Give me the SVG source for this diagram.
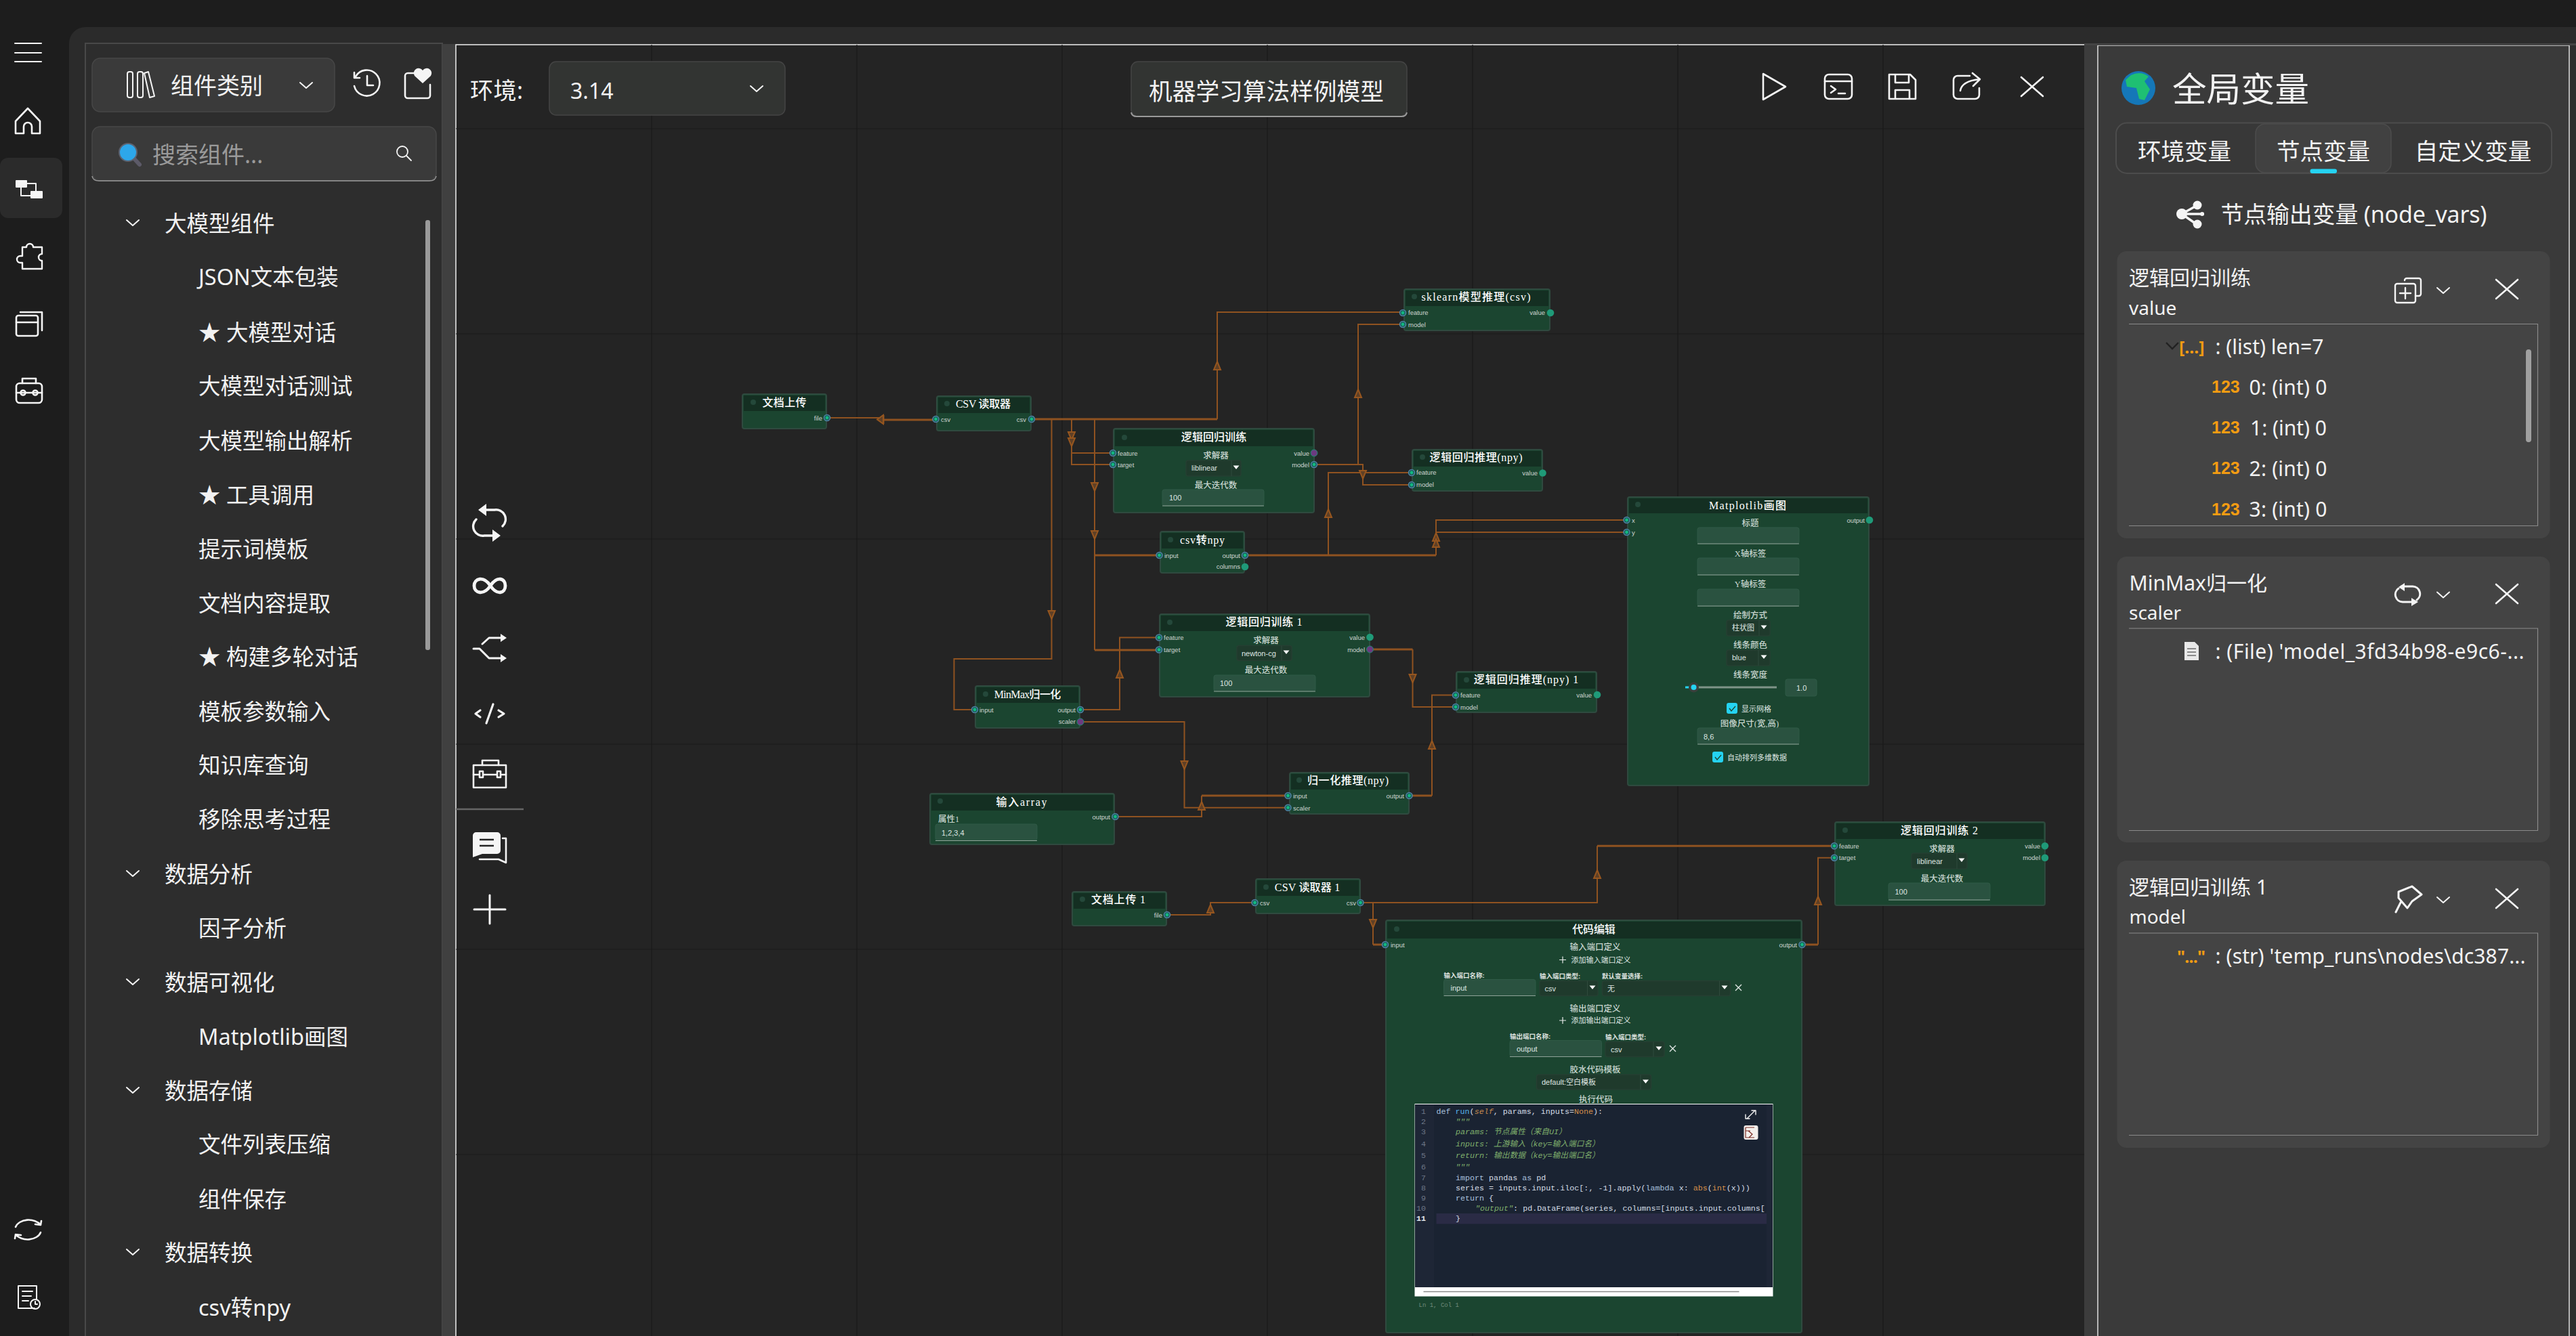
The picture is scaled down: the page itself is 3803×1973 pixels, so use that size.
<svg xmlns="http://www.w3.org/2000/svg" xmlns:xlink="http://www.w3.org/1999/xlink" width="3803" height="1973" viewBox="0 0 3803 1973" stroke-width="2.6">
<style>
text{font-family:"Noto Sans","Noto Sans CJK SC",sans-serif;fill:#f2f2f2;dominant-baseline:central}
.tree{font-size:32.5px}
.ic{fill:none;stroke:#f5f5f5;stroke-linecap:round;stroke-linejoin:round}
.icf{fill:#f5f5f5;stroke:none}
.grid{stroke:#1a1a1a;stroke-width:1.2}
.e{fill:none;stroke:#8f5220;stroke-width:2}
.t{fill:none;stroke:#8f5220;stroke-width:3}
.ah{fill:#5f4026;stroke:#96561f;stroke-width:2;stroke-linejoin:miter}
.n{fill:#1b4530;stroke:#2f4a3f;stroke-width:2}
.h{fill:#142f22}
.d{fill:#24483a}
.tt{font-family:"Liberation Serif","Noto Sans CJK SC",serif;font-size:16px;font-weight:500;fill:#fff;text-anchor:middle}
.pl{font-family:"Liberation Sans","Noto Sans CJK SC",sans-serif;font-size:9.5px;fill:#cfd6d2}
.pr{font-family:"Liberation Sans","Noto Sans CJK SC",sans-serif;font-size:9.5px;fill:#cfd6d2;text-anchor:end}
.lab{font-family:"Liberation Serif","Noto Sans CJK SC",serif;font-size:12.5px;font-weight:500;fill:#c8d6cf;text-anchor:middle}
.lb2{font-family:"Liberation Sans","Noto Sans CJK SC",sans-serif;font-size:9.5px;font-weight:700;fill:#e0e6e2}
.val{font-family:"Liberation Sans","Noto Sans CJK SC",sans-serif;font-size:11px;fill:#dfe6e2}
.inp{fill:#2a5240;stroke:#2f5a46;stroke-width:1}
.ul{stroke:#8fa398;stroke-width:1}
.sel{fill:#1f3a2c;stroke:#263f32;stroke-width:1.5}
.dv{stroke:#2f4a3c;stroke-width:1}
.x{fill:none;stroke:#dfe6e2;stroke-width:1.4}
.cb{fill:#25d3f2}
.ck{fill:none;stroke:#1b4530;stroke-width:1.3}
.code{font-family:"Liberation Mono","Noto Sans CJK SC",monospace;font-size:11.7px;fill:#d4dce6}
.ln{font-family:"Liberation Mono",monospace;font-size:11.7px;fill:#6d7787;text-anchor:end}
.kw{fill:#a8c0de}.fn{fill:#56b2ea}.or{fill:#d68f4a}.cm{fill:#7faf6c;font-style:italic}.sf{fill:#c68a4e;font-style:italic}
.card{fill:#444}
.tb{fill:none;stroke:#8a8a8a;stroke-width:1.2}
.rt{font-size:30px}
.rs{font-size:28px}
.o123{font-family:"Liberation Sans",sans-serif;font-size:25px;font-weight:700;fill:#f39c12}
.tab{font-size:34.5px;text-anchor:middle}
</style>
<defs>
<g id="pi"><circle r="4.5" fill="#1b5a56" stroke="#4d82a3" stroke-width="1.6"/><circle r="2.4" fill="#12b981"/></g>
<g id="pf"><circle r="5.3" fill="#1f9a78"/></g>
<g id="pp"><circle r="5" fill="#6b3a80" stroke="#1f8a70" stroke-width="1"/></g>
<path id="au" class="ah" d="M0,-6 L5,6 H-5Z"/>
<path id="ad" class="ah" d="M0,6 L5,-6 H-5Z"/>
<path id="dd" fill="#fff" d="M-4.5,-2.5 H4.5 L0,3 Z"/>
<path id="xm" class="ic" d="M-16,-14 L16,14 M16,-14 L-16,14"/>
<path id="cv" class="ic" d="M-9,-4 L0,4 L9,-4" stroke-width="2"/>
<path id="pm" stroke="#e8ece9" stroke-width="1.2" d="M-5,0 H5 M0,-5 V5"/>
<clipPath id="edc"><rect x="2117" y="1631" width="491" height="270"/></clipPath>
</defs>

<rect id="page" width="3803" height="1973" fill="#1d1d1d"/>
<rect id="content" x="102" y="40" width="3760" height="2000" rx="24" fill="#2b2b2b"/>

<g id="rail">
<rect x="0" y="233" width="92" height="89" rx="12" fill="#2b2b2b"/>
<path class="ic" d="M22,64 H61 M22,78 H61 M22,91 H61" stroke-width="2"/>
<path class="ic" d="M23,179 L41,160 L59,179 V197 H47 V187 a6,6 0 0 0 -12,0 V197 H23 Z"/>
<g class="ic" stroke-width="2"><rect x="24" y="267" width="15" height="9" fill="#f5f5f5"/><rect x="46" y="283" width="16" height="9" fill="#f5f5f5"/><path d="M31,276 V289 H46 M39,271 H53 V283"/></g>
<path class="ic" d="M33,365 h6 a5,5 0 1 1 10,0 h13 v10 a5,5 0 0 0 0,10 v12 H33 V388 h-3 a5,5 0 1 1 0,-10 h3 Z" stroke-width="2.4"/>
<g class="ic"><rect x="24" y="466" width="32" height="30" rx="3"/><path d="M24,476 H56 M30,461 H62 V488"/></g>
<g class="ic"><rect x="24" y="566" width="38" height="29" rx="5"/><path d="M33,566 V559 H53 V566 M24,580 H62"/><circle cx="34" cy="580" r="3.5"/><circle cx="52" cy="580" r="3.5"/></g>
<path class="ic" d="M23,1812 a20,14 0 0 1 37,-3 M60,1809 l-8,-1 M60,1809 l1,-6 M60,1820 a20,14 0 0 1 -37,3 M23,1823 l8,1 M23,1823 l-1,6"/>
<g class="ic" stroke-width="2"><path d="M51,1932 H27 V1899 H54 V1918 M33,1907 H48 M33,1914 H46 M33,1921 H42"/><circle cx="52" cy="1926" r="7"/><path d="M52,1922 V1926 H55"/></g>
</g>

<g id="sidebar">
<rect x="126" y="64" width="527" height="1920" fill="#2d2d2d" stroke="#484848" stroke-width="2"/>
<rect x="653" y="65" width="20" height="1910" fill="#404040"/>
<rect x="136" y="86" width="358" height="79" rx="12" fill="#3a3a3a" stroke="#474747" stroke-width="1.5"/>
<g class="ic" stroke-width="2"><rect x="188" y="106" width="8" height="38" rx="3"/><rect x="203" y="106" width="8" height="38" rx="3"/><path d="M213,108 L219,106 L228,142 L221,144 Z"/></g>
<text x="252" y="126" font-size="34">组件类别</text>
<use href="#cv" x="452" y="126"/>
<g class="ic"><path d="M525,113 a19,19 0 1 1 -2,14 M523,107 V115 H531 M542,112 V126 H551"/></g>
<g><path class="ic" d="M612,108 H602 a4,4 0 0 0 -4,4 V141 a4,4 0 0 0 4,4 H631 a4,4 0 0 0 4,-4 V125"/><path class="icf" d="M624,123 L612,112 a6.5,6.5 0 0 1 12,-8 a6.5,6.5 0 0 1 12,8 Z"/></g>
<rect x="136" y="187" width="508" height="80" rx="12" fill="#3a3a3a" stroke="#474747" stroke-width="1.5"/>
<path d="M136,260 Q137,267 146,267 H634 Q643,267 644,260" fill="none" stroke="#9a9a9a" stroke-width="1.5"/>
<path d="M196,232 L206,243" stroke="#5c5a68" stroke-width="6" stroke-linecap="round"/>
<circle cx="189" cy="225" r="13" fill="#2da7ea" stroke="#5c6270" stroke-width="2"/>
<text x="225" y="228" font-size="34" style="fill:#9a9a9a">搜索组件...</text>
<g class="ic" stroke-width="1.8"><circle cx="594" cy="224" r="8"/><path d="M600,230 L607,237"/></g>
<rect x="628" y="325" width="7" height="635" rx="3" fill="#9a9a9a"/>
<use href="#cv" x="196" y="329"/><text class="tree" x="243" y="329">大模型组件</text>
<text class="tree" x="293" y="408">JSON文本包装</text>
<text class="tree" x="293" y="490">★ 大模型对话</text>
<text class="tree" x="293" y="569.5">大模型对话测试</text>
<text class="tree" x="293" y="650.5">大模型输出解析</text>
<text class="tree" x="293" y="730">★ 工具调用</text>
<text class="tree" x="293" y="810">提示词模板</text>
<text class="tree" x="293" y="890">文档内容提取</text>
<text class="tree" x="293" y="969">★ 构建多轮对话</text>
<text class="tree" x="293" y="1050">模板参数输入</text>
<text class="tree" x="293" y="1129">知识库查询</text>
<text class="tree" x="293" y="1209">移除思考过程</text>
<use href="#cv" x="196" y="1290"/><text class="tree" x="243" y="1290">数据分析</text>
<text class="tree" x="293" y="1370">因子分析</text>
<use href="#cv" x="196" y="1450"/><text class="tree" x="243" y="1450">数据可视化</text>
<text class="tree" x="293" y="1530">Matplotlib画图</text>
<use href="#cv" x="196" y="1610"/><text class="tree" x="243" y="1610">数据存储</text>
<text class="tree" x="293" y="1689">文件列表压缩</text>
<text class="tree" x="293" y="1770">组件保存</text>
<use href="#cv" x="196" y="1849"/><text class="tree" x="243" y="1849">数据转换</text>
<text class="tree" x="293" y="1930">csv转npy</text>
</g>

<g id="canvas">
<rect x="673" y="66" width="2404" height="1907" fill="#242424"/>
<path d="M673,1973 V66 H3077" fill="none" stroke="#f0f0f0" stroke-width="1.5"/>
<rect x="3077" y="64" width="20" height="1909" fill="#3c3c3c"/>
<g class="grid">
<path d="M673,190 H3077 M673,493 H3077 M673,796 H3077 M673,1099 H3077 M673,1402 H3077 M673,1705 H3077"/>
<path d="M962,66 V1973 M1265,66 V1973 M1568,66 V1973 M1871,66 V1973 M2174,66 V1973 M2477,66 V1973 M2780,66 V1973"/>
</g>
<text x="694" y="133" font-size="34" textLength="78">环境:</text>
<rect x="811" y="91" width="348" height="79" rx="10" fill="#323432" stroke="#444" stroke-width="1.5"/>
<text x="842" y="133" font-size="32">3.14</text>
<use href="#cv" x="1117" y="131"/>
<rect x="1670" y="91" width="407" height="81" rx="10" fill="#323432" stroke="#444" stroke-width="1.5"/>
<path d="M1670,166 Q1671,172 1678,172 H2069 Q2076,172 2077,166" fill="none" stroke="#9a9a9a" stroke-width="2"/>
<text x="1696" y="134" font-size="34.7">机器学习算法样例模型</text>
<g id="canvas-tools">
<path class="ic" d="M2603,109 L2636,128 L2603,147 Z"/>
<g class="ic"><rect x="2694" y="110" width="40" height="36" rx="6"/><path d="M2694,120 H2734 M2703,127 L2710,132 L2703,137 M2714,138 H2724"/></g>
<g class="ic"><path d="M2789,110 H2820 L2828,118 V146 H2789 Z M2798,110 V122 H2818 V110 M2798,146 V133 H2819 V146"/></g>
<g class="ic"><path d="M2908,112 H2890 a6,6 0 0 0 -6,6 V140 a6,6 0 0 0 6,6 H2916 a6,6 0 0 0 6,-6 V130 M2894,134 Q2896,120 2922,117 M2912,108 L2923,117 L2913,127"/></g>
<use href="#xm" x="3000" y="128"/>
</g>
<g id="palette">
<path class="ic" d="M712,753 h18 a14,14 0 0 1 12,24 M733,791 h-18 a14,14 0 0 1 -12,-24" stroke-width="3.4"/>
<path class="icf" d="M718,744 V762 L706,753 Z M727,782 V800 L739,791 Z"/>
<path class="ic" d="M724,865 C714,850 700,854 700,865 C700,876 714,880 724,865 C734,850 746,854 746,865 C746,876 734,880 724,865 Z" stroke-width="4.8"/>
<path class="ic" d="M699,958 H708 L722,972 H742 M712,951 L722,942 H742" stroke-width="3"/>
<path class="icf" d="M739,936 L748,942 L739,948 Z M739,966 L748,972 L739,978 Z"/>
<path class="ic" d="M709,1049 L702,1054 L709,1059 M736,1049 L744,1054 L736,1059 M728,1040 L718,1068" stroke-width="3.2"/>
<g class="ic" stroke-width="2.6"><rect x="699" y="1130" width="48" height="33"/><path d="M712,1130 V1123 H736 V1130 M699,1144 H747"/><rect x="708" y="1139" width="5" height="9" fill="#242424"/><rect x="734" y="1139" width="5" height="9" fill="#242424"/></g>
<path stroke="#666" stroke-width="2.4" d="M673,1195 H773"/>
<path class="icf" d="M703,1229 H734 a5,5 0 0 1 5,5 V1256 a5,5 0 0 1 -5,5 H712 L698,1266 V1234 a5,5 0 0 1 5,-5 Z"/>
<path stroke="#242424" stroke-width="2.4" d="M708,1240 H729 M708,1249 H729"/>
<path class="ic" d="M742,1238 H747 V1274 L736,1269 H708"/>
<path class="ic" d="M723,1322 V1364 M700,1343 H746" stroke-width="3"/>
</g>
</g>

<g id="connectors">
<path class="e" d="M1221,617 H1304"/><path class="t" d="M1304,620 H1381 M1304,613 V626"/>
<path class="t" d="M1523,619 H1797"/><path class="e" d="M1797,619 V461 H2071"/>
<path class="e" d="M1582,619 V669 H1643"/>
<path class="e" d="M1582,619 V686 H1643"/>
<path class="e" d="M1616,619 V820"/><path class="t" d="M1616,820 H1711"/>
<path class="e" d="M1616,820 V960"/><path class="t" d="M1616,960 H1711"/>
<path class="e" d="M1552.5,619 V973 H1408.5 V1048 H1439"/>
<path class="e" d="M1595,1048 H1653 V941.5 H1711"/>
<path class="e" d="M1940,686 H2005 V479 H2071"/>
<path class="e" d="M1940,686 H2012 V716 H2084"/>
<path class="t" d="M1838,820 H2120"/>
<path class="e" d="M1961,820 V698 H2084"/>
<path class="e" d="M2120,820 V768 H2401"/>
<path class="e" d="M2120,820 V786 H2401"/>
<path class="t" d="M2023,959 H2085.5"/><path class="e" d="M2085.5,959 V1044 H2149"/>
<path class="t" d="M2080,1175 H2114"/><path class="e" d="M2114,1175 V1026.5 H2149"/>
<path class="e" d="M1595,1066 H1748.5 V1192.7 H1901"/>
<path class="e" d="M1646,1206 H1774 V1175"/><path class="t" d="M1774,1175 H1901"/>
<path class="e" d="M1723,1351 H1787 V1333 H1852"/>
<path class="e" d="M2008.7,1333 H2358 V1249.3"/><path class="t" d="M2358,1249.3 H2708"/>
<path class="e" d="M2027,1333 V1395"/><path class="t" d="M2027,1395 H2045"/>
<path class="t" d="M2661,1395 H2684"/><path class="e" d="M2684,1395 V1266.7 H2708"/>
<path class="ah" d="M1295,619.5 L1304,613 V626 Z"/>
<use href="#au" x="1797" y="540"/><use href="#ad" x="1582" y="644"/><use href="#ad" x="1582" y="653"/>
<use href="#ad" x="1616" y="719"/><use href="#ad" x="1616" y="790"/><use href="#ad" x="1552.5" y="908"/>
<use href="#au" x="1653" y="995"/><use href="#au" x="2005" y="581"/><use href="#ad" x="2012" y="701"/>
<use href="#au" x="1961" y="758"/><use href="#au" x="2120" y="793"/><use href="#au" x="2120" y="802"/>
<use href="#ad" x="2085.5" y="1002"/><use href="#au" x="2114" y="1100"/><use href="#ad" x="1748.5" y="1130"/>
<use href="#au" x="1774" y="1190"/><use href="#au" x="1787" y="1342"/><use href="#ad" x="2027" y="1364"/>
<use href="#au" x="2358" y="1291"/><use href="#au" x="2684" y="1330"/>
</g>

<g id="node-upload">
<rect class="n" x="1096" y="582" width="124" height="51" rx="3"/><rect class="h" x="1098" y="584" width="120" height="23"/><circle class="d" cx="1112" cy="594" r="4"/>
<text class="tt" x="1158" y="594" textLength="65">文档上传</text>
<text class="pr" x="1214" y="617">file</text><use href="#pi" x="1221" y="617"/>
</g>
<g id="node-csv">
<rect class="n" x="1383" y="585" width="139" height="51" rx="3"/><rect class="h" x="1385" y="587" width="135" height="23"/><circle class="d" cx="1398" cy="596" r="4"/>
<text class="tt" x="1451.5" y="596.5" textLength="81">CSV 读取器</text>
<text class="pl" x="1389" y="619">csv</text><text class="pr" x="1515" y="619">csv</text>
<use href="#pi" x="1381.5" y="619"/><use href="#pi" x="1523" y="619"/>
</g>
<g id="node-lr">
<rect class="n" x="1644" y="633" width="296" height="124" rx="3"/><rect class="h" x="1646" y="635" width="292" height="24"/><circle class="d" cx="1660" cy="646" r="4"/>
<text class="tt" x="1792" y="645" textLength="96.4">逻辑回归训练</text>
<text class="pl" x="1650" y="669">feature</text><text class="pl" x="1650" y="686">target</text>
<text class="pr" x="1933" y="669">value</text><text class="pr" x="1933" y="686">model</text>
<use href="#pi" x="1643" y="669"/><use href="#pi" x="1643" y="686"/><use href="#pp" x="1940" y="669"/><use href="#pi" x="1940" y="686"/>
<text class="lab" x="1795" y="673">求解器</text>
<rect class="sel" x="1751" y="680" width="81" height="23" rx="3"/><path class="dv" d="M1818,680 V703"/><use href="#dd" x="1825" y="690"/><text class="val" x="1759" y="691">liblinear</text>
<text class="lab" x="1795" y="717">最大迭代数</text>
<rect class="inp" x="1716" y="723" width="150" height="24" rx="3"/><path class="ul" d="M1716,747 H1866"/><text class="val" x="1726" y="735">100</text>
</g>
<g id="node-csv2npy">
<rect class="n" x="1713" y="785" width="124" height="61" rx="3"/><rect class="h" x="1715" y="787" width="120" height="23"/><circle class="d" cx="1728" cy="797" r="4"/>
<text class="tt" x="1775" y="797" textLength="66">csv转npy</text>
<text class="pl" x="1719" y="820">input</text><text class="pr" x="1831" y="820">output</text><text class="pr" x="1831" y="836.5">columns</text>
<use href="#pi" x="1711.5" y="820"/><use href="#pi" x="1838" y="820"/><use href="#pf" x="1838" y="837"/>
</g>
<g id="node-lr1">
<rect class="n" x="1712" y="907" width="310" height="122" rx="3"/><rect class="h" x="1714" y="909" width="306" height="23"/><circle class="d" cx="1727" cy="919" r="4"/>
<text class="tt" x="1866" y="918" textLength="113">逻辑回归训练 1</text>
<text class="pl" x="1718" y="941.5">feature</text><text class="pl" x="1718" y="959">target</text>
<text class="pr" x="2015" y="941">value</text><text class="pr" x="2015" y="959">model</text>
<use href="#pi" x="1711" y="941.5"/><use href="#pi" x="1711" y="959.5"/><use href="#pf" x="2022.5" y="941"/><use href="#pp" x="2022.5" y="959"/>
<text class="lab" x="1869" y="946">求解器</text>
<rect class="sel" x="1826" y="953.5" width="81" height="22" rx="3"/><path class="dv" d="M1892,953.5 V975.5"/><use href="#dd" x="1899" y="963"/><text class="val" x="1833" y="965">newton-cg</text>
<text class="lab" x="1869" y="990">最大迭代数</text>
<rect class="inp" x="1792" y="997" width="150" height="24" rx="3"/><path class="ul" d="M1792,1021 H1942"/><text class="val" x="1801" y="1009">100</text>
</g>
<g id="node-minmax">
<rect class="n" x="1440" y="1013" width="154" height="62" rx="3"/><rect class="h" x="1442" y="1015" width="150" height="23"/><circle class="d" cx="1455" cy="1025" r="4"/>
<text class="tt" x="1517" y="1025" textLength="98.5">MinMax归一化</text>
<text class="pl" x="1446" y="1048">input</text><text class="pr" x="1588" y="1048">output</text><text class="pr" x="1588" y="1065">scaler</text>
<use href="#pi" x="1439" y="1048"/><use href="#pi" x="1595" y="1048"/><use href="#pp" x="1595" y="1066"/>
</g>
<g id="node-array">
<rect class="n" x="1373" y="1172" width="272" height="75" rx="3"/><rect class="h" x="1375" y="1174" width="268" height="23"/><circle class="d" cx="1388" cy="1183" r="4"/>
<text class="tt" x="1508" y="1184" textLength="75">输入array</text>
<text class="lab" x="1385" y="1210" style="text-anchor:start">属性1</text>
<rect class="inp" x="1381" y="1217" width="150" height="24" rx="3"/><path class="ul" d="M1381,1241.5 H1531"/><text class="val" x="1390" y="1230">1,2,3,4</text>
<text class="pr" x="1639" y="1206">output</text><use href="#pi" x="1646.5" y="1206"/>
</g>
<g id="node-norm-predict">
<rect class="n" x="1904" y="1141" width="176" height="61" rx="3"/><rect class="h" x="1906" y="1143" width="172" height="23"/><circle class="d" cx="1918" cy="1152" r="4"/>
<text class="tt" x="1990" y="1152" textLength="120">归一化推理(npy)</text>
<text class="pl" x="1909" y="1175">input</text><text class="pl" x="1909" y="1193">scaler</text><text class="pr" x="2073" y="1175">output</text>
<use href="#pi" x="1901.5" y="1175"/><use href="#pi" x="1901.5" y="1192.7"/><use href="#pi" x="2080.5" y="1175"/>
</g>
<g id="node-upload1">
<rect class="n" x="1583" y="1317" width="139" height="50" rx="3"/><rect class="h" x="1585" y="1319" width="135" height="23"/><circle class="d" cx="1598" cy="1328" r="4"/>
<text class="tt" x="1651" y="1328" textLength="80">文档上传 1</text>
<text class="pr" x="1716" y="1351">file</text><use href="#pi" x="1723" y="1351"/>
</g>
<g id="node-csv1">
<rect class="n" x="1854" y="1298" width="154" height="51" rx="3"/><rect class="h" x="1856" y="1300" width="150" height="23"/><circle class="d" cx="1869" cy="1310" r="4"/>
<text class="tt" x="1930" y="1310" textLength="96.4">CSV 读取器 1</text>
<text class="pl" x="1860" y="1333">csv</text><text class="pr" x="2002" y="1333">csv</text>
<use href="#pi" x="1852.5" y="1333"/><use href="#pi" x="2008.5" y="1333"/>
</g>
<g id="node-sklearn">
<rect class="n" x="2073" y="427" width="215" height="61" rx="3"/><rect class="h" x="2075" y="429" width="211" height="23"/><circle class="d" cx="2088" cy="438" r="4"/>
<text class="tt" x="2179" y="438" textLength="161">sklearn模型推理(csv)</text>
<text class="pl" x="2079" y="461">feature</text><text class="pl" x="2079" y="479">model</text><text class="pr" x="2281" y="461">value</text>
<use href="#pi" x="2071" y="462"/><use href="#pi" x="2071" y="479"/><use href="#pf" x="2289" y="462"/>
</g>
<g id="node-predict">
<rect class="n" x="2085" y="664" width="192" height="61" rx="3"/><rect class="h" x="2087" y="666" width="188" height="23"/><circle class="d" cx="2100" cy="675" r="4"/>
<text class="tt" x="2179" y="675" textLength="137">逻辑回归推理(npy)</text>
<text class="pl" x="2091" y="697.5">feature</text><text class="pl" x="2091" y="715">model</text><text class="pr" x="2270" y="698">value</text>
<use href="#pi" x="2084" y="698"/><use href="#pi" x="2084" y="716"/><use href="#pf" x="2277.5" y="698.5"/>
</g>
<g id="node-predict1">
<rect class="n" x="2150" y="992" width="207" height="60" rx="3"/><rect class="h" x="2152" y="994" width="203" height="23"/><circle class="d" cx="2165" cy="1004" r="4"/>
<text class="tt" x="2253" y="1003.5" textLength="154.5">逻辑回归推理(npy) 1</text>
<text class="pl" x="2156" y="1026">feature</text><text class="pl" x="2156" y="1044">model</text><text class="pr" x="2350" y="1026">value</text>
<use href="#pi" x="2149" y="1026.5"/><use href="#pi" x="2149" y="1044"/><use href="#pf" x="2358" y="1026"/>
</g>
<g id="node-matplotlib">
<rect class="n" x="2403" y="734" width="356" height="426" rx="3"/><rect class="h" x="2405" y="736" width="352" height="22"/><circle class="d" cx="2418" cy="745" r="4"/>
<text class="tt" x="2580" y="746" textLength="114">Matplotlib画图</text>
<text class="pl" x="2409" y="768">x</text><text class="pl" x="2409" y="786">y</text><text class="pr" x="2753" y="768">output</text>
<use href="#pi" x="2401.5" y="768"/><use href="#pi" x="2401.5" y="786"/><use href="#pf" x="2760" y="768"/>
<text class="lab" x="2584" y="773">标题</text>
<rect class="inp" x="2506" y="779" width="150" height="24" rx="3"/><path class="ul" d="M2506,803 H2656"/>
<text class="lab" x="2584" y="818">X轴标签</text>
<rect class="inp" x="2506" y="824" width="150" height="25" rx="3"/><path class="ul" d="M2506,849 H2656"/>
<text class="lab" x="2584" y="863">Y轴标签</text>
<rect class="inp" x="2506" y="870" width="150" height="25" rx="3"/><path class="ul" d="M2506,895 H2656"/>
<text class="lab" x="2584" y="909">绘制方式</text>
<rect class="sel" x="2549" y="916" width="64" height="23" rx="3"/><path class="dv" d="M2597,916 V939"/><use href="#dd" x="2604" y="926"/><text class="val" x="2557" y="927">柱状图</text>
<text class="lab" x="2584" y="953">线条颜色</text>
<rect class="sel" x="2549" y="960" width="64" height="23" rx="3"/><path class="dv" d="M2596,960 V983"/><use href="#dd" x="2604" y="970"/><text class="val" x="2557" y="971">blue</text>
<text class="lab" x="2584" y="997">线条宽度</text>
<path stroke="#7f9488" stroke-width="3" d="M2506,1015 H2623"/><path stroke="#25d3f2" stroke-width="3" d="M2488,1015 H2494"/>
<circle cx="2500.5" cy="1015" r="7.5" fill="#3a3f3c"/><circle cx="2500.5" cy="1015" r="4" fill="#25d3f2"/>
<rect class="inp" x="2636" y="1003" width="46" height="25" rx="3"/><text class="val" x="2652" y="1016">1.0</text>
<rect class="cb" x="2549" y="1038" width="16" height="16" rx="3"/><path class="ck" d="M2553,1046 L2556,1050 L2562,1043"/><text class="val" x="2571" y="1047">显示网格</text>
<text class="lab" x="2583" y="1069">图像尺寸(宽,高)</text>
<rect class="inp" x="2506" y="1075" width="150" height="24" rx="3"/><path class="ul" d="M2506,1099 H2656"/><text class="val" x="2515" y="1088">8,6</text>
<rect class="cb" x="2528" y="1110" width="16" height="16" rx="3"/><path class="ck" d="M2532,1118 L2535,1122 L2541,1115"/><text class="val" x="2550" y="1119">自动排列多维数据</text>
</g>
<g id="node-lr2">
<rect class="n" x="2709" y="1214" width="310" height="123" rx="3"/><rect class="h" x="2711" y="1216" width="306" height="23"/><circle class="d" cx="2724" cy="1226" r="4"/>
<text class="tt" x="2863" y="1226" textLength="114">逻辑回归训练 2</text>
<text class="pl" x="2715" y="1249">feature</text><text class="pl" x="2715" y="1266">target</text><text class="pr" x="3012" y="1249">value</text><text class="pr" x="3012" y="1266">model</text>
<use href="#pi" x="2708" y="1249.3"/><use href="#pi" x="2708" y="1266.7"/><use href="#pf" x="3019" y="1249.3"/><use href="#pf" x="3019" y="1266.7"/>
<text class="lab" x="2867" y="1254">求解器</text>
<rect class="sel" x="2822" y="1260" width="82" height="23" rx="3"/><path class="dv" d="M2889,1260 V1283"/><use href="#dd" x="2896" y="1270"/><text class="val" x="2830" y="1272">liblinear</text>
<text class="lab" x="2867" y="1298">最大迭代数</text>
<rect class="inp" x="2788" y="1304" width="150" height="25" rx="3"/><path class="ul" d="M2788,1329 H2938"/><text class="val" x="2797.5" y="1317">100</text>
</g>
<g id="node-code">
<rect class="n" x="2046" y="1359" width="614" height="609" rx="3"/><rect class="h" x="2048" y="1361" width="610" height="25"/><circle class="d" cx="2062" cy="1372" r="4"/>
<text class="tt" x="2353" y="1372" textLength="63.5">代码编辑</text>
<text class="pl" x="2053" y="1395">input</text><text class="pr" x="2653" y="1395">output</text>
<use href="#pi" x="2045" y="1395"/><use href="#pi" x="2660.5" y="1395"/>
<text class="lab" x="2355" y="1399">输入端口定义</text>
<use href="#pm" x="2307" y="1417.5"/><text class="val" x="2319.5" y="1417.5">添加输入端口定义</text>
<text class="lb2" x="2131.5" y="1440">输入端口名称:</text><text class="lb2" x="2273" y="1441">输入端口类型:</text><text class="lb2" x="2365" y="1441">默认变量选择:</text>
<rect class="inp" x="2131.5" y="1446.5" width="135.5" height="24" rx="3"/><path class="ul" d="M2131.5,1470.5 H2267"/><text class="val" x="2141.5" y="1459">input</text>
<rect class="sel" x="2273" y="1448.5" width="86" height="22" rx="3"/><path class="dv" d="M2343.5,1448.5 V1470.5"/><use href="#dd" x="2351" y="1458"/><text class="val" x="2280.5" y="1460">csv</text>
<rect class="sel" x="2365.5" y="1448.5" width="189" height="22" rx="3"/><path class="dv" d="M2538.5,1448.5 V1470.5"/><use href="#dd" x="2546" y="1458"/><text class="val" x="2373" y="1460">无</text>
<path class="x" d="M2562,1454 L2571,1463 M2571,1454 L2562,1463"/>
<text class="lab" x="2355" y="1490">输出端口定义</text>
<use href="#pm" x="2307" y="1507"/><text class="val" x="2319.5" y="1507">添加输出端口定义</text>
<text class="lb2" x="2229" y="1530">输出端口名称:</text><text class="lb2" x="2370" y="1531">输入端口类型:</text>
<rect class="inp" x="2229" y="1536.5" width="135.5" height="24" rx="3"/><path class="ul" d="M2229,1560.5 H2364.5"/><text class="val" x="2239" y="1549">output</text>
<rect class="sel" x="2370" y="1538.5" width="87" height="22" rx="3"/><path class="dv" d="M2441,1538.5 V1560.5"/><use href="#dd" x="2449" y="1548"/><text class="val" x="2378" y="1550">csv</text>
<path class="x" d="M2465,1544 L2474,1553 M2474,1544 L2465,1553"/>
<text class="lab" x="2355" y="1580">胶水代码模板</text>
<rect class="sel" x="2268.5" y="1587" width="169" height="22" rx="3"/><path class="dv" d="M2422,1587 V1609"/><use href="#dd" x="2429.5" y="1597"/><text class="val" x="2276" y="1598">default:空白模板</text>
<text class="lab" x="2356" y="1624">执行代码</text>
<rect x="2088.5" y="1630" width="529" height="284.5" fill="#fff"/>
<rect x="2089" y="1631" width="528" height="270" fill="#1a2332"/>
<rect x="2089" y="1631" width="28" height="270" fill="#1e2636"/>
<rect x="2608" y="1631" width="9" height="270" fill="#1e2636"/>
<rect x="2120.5" y="1792" width="487.5" height="15.5" fill="#2a2b45"/>
<path stroke="#8a8a8a" stroke-width="1.5" d="M2101.5,1907.5 H2567.5"/>
<g>
<text class="ln" x="2105" y="1642">1</text><text class="ln" x="2105" y="1657">2</text><text class="ln" x="2105" y="1672">3</text><text class="ln" x="2105" y="1689.5">4</text><text class="ln" x="2105" y="1706.5">5</text><text class="ln" x="2105" y="1723.5">6</text><text class="ln" x="2105" y="1740">7</text><text class="ln" x="2105" y="1755">8</text><text class="ln" x="2105" y="1770">9</text><text class="ln" x="2105" y="1785">10</text><text class="ln" x="2105" y="1800" style="fill:#e8ecf2;font-weight:700">11</text>
</g>
<g clip-path="url(#edc)">
<text class="code" x="2120.5" y="1642"><tspan class="kw">def</tspan> <tspan class="fn">run</tspan>(<tspan class="sf">self</tspan>, params, inputs=<tspan class="or">None</tspan>):</text>
<text class="code cm" x="2149" y="1657">"""</text>
<text class="code cm" x="2149" y="1672">params: 节点属性（来自UI）</text>
<text class="code cm" x="2149" y="1689.5">inputs: 上游输入（key=输入端口名）</text>
<text class="code cm" x="2149" y="1706.5">return: 输出数据（key=输出端口名）</text>
<text class="code cm" x="2149" y="1723.5">"""</text>
<text class="code" x="2149" y="1740"><tspan class="kw">import</tspan> pandas <tspan class="kw">as</tspan> pd</text>
<text class="code" x="2149" y="1755">series = inputs.input.iloc[:, -1].apply(<tspan class="kw">lambda</tspan> x: <tspan class="or">abs</tspan>(<tspan class="or">int</tspan>(x)))</text>
<text class="code" x="2149" y="1770"><tspan class="kw">return</tspan> {</text>
<text class="code" x="2178" y="1785"><tspan class="cm">"output"</tspan>: pd.DataFrame(series, columns=[inputs.input.columns[</text>
<text class="code" x="2149" y="1800">}</text>
</g>
<g class="ic" stroke-width="1.4"><path d="M2579,1652 L2591,1640 M2586,1640 H2592 V1646 M2577,1646 V1652 H2583"/></g>
<rect x="2574.5" y="1662" width="21" height="21" rx="3" fill="#f4f0ec"/><path fill="none" stroke="#7a2a22" stroke-width="1.2" d="M2577,1665 H2590 M2577,1665 V1680 H2590 M2581,1670 L2587,1675 L2582,1680 M2577,1670 H2584"/>
<text x="2094.5" y="1927.5" font-size="9" style="font-family:'Liberation Mono',monospace;fill:#6f8a7b">Ln 1, Col 1</text>
</g>

<g id="right-panel">
<rect x="3097" y="67" width="696" height="1906" fill="#3a3a3a"/>
<path d="M3097,1973 V67 H3793 V1973" fill="none" stroke="#e0e0e0" stroke-width="1.5"/>
<rect x="3077" y="64" width="726" height="3" fill="#444"/>
<rect x="3794" y="67" width="9" height="1906" fill="#2e2e2e"/>
<circle cx="3157" cy="130" r="25" fill="#1577b8"/>
<path fill="#1fbf73" d="M3146,111 Q3160,104 3172,113 L3166,120 L3174,132 L3166,148 L3158,146 L3154,130 L3140,128 L3138,118 Z"/>
<text x="3207" y="130" font-size="50.5">全局变量</text>
<rect x="3124" y="181.5" width="643" height="74.5" rx="16" fill="#383838" stroke="#4c4c4c" stroke-width="2"/>
<rect x="3330" y="183" width="200" height="72" rx="14" fill="#414141" stroke="#4c4c4c" stroke-width="1.5"/>
<rect x="3410.5" y="249.5" width="39.5" height="6.5" rx="3" fill="#25d3f2"/>
<text class="tab" x="3225" y="222">环境变量</text><text class="tab" x="3430" y="222">节点变量</text><text class="tab" x="3651" y="222">自定义变量</text>
<g><path stroke="#f5f5f5" stroke-width="3.5" d="M3221,316 L3244,303 M3221,316 L3244,332 M3221,316 H3254"/><circle class="icf" cx="3221" cy="316" r="8"/><circle class="icf" cx="3244" cy="303" r="6.5"/><circle class="icf" cx="3244" cy="331" r="6.5"/><circle class="icf" cx="3251" cy="316" r="3"/></g>
<text x="3278.5" y="316" font-size="34" textLength="393">节点输出变量 (node_vars)</text>

<g id="card-value">
<rect class="card" x="3125.5" y="371" width="639" height="424" rx="14"/>
<text class="rt" x="3143" y="409">逻辑回归训练</text><text class="rs" x="3143" y="453.5">value</text>
<g class="ic" stroke-width="2.4"><path d="M3550,414 a3,3 0 0 1 3,-3 H3571 a3,3 0 0 1 3,3 V434 a3,3 0 0 1 -3,3 H3566"/><rect x="3536" y="419" width="30" height="28" rx="3"/><path d="M3543,433 H3559 M3551,425 V441"/></g>
<use href="#cv" x="3607" y="429"/><use href="#xm" x="3701" y="427"/>
<path class="tb" d="M3143,478.5 H3746.5 V776.5 H3143"/>
<path fill="none" stroke="#222" stroke-width="2.4" d="M3198,506 L3207,515 L3216,506"/>
<text x="3217" y="511.5" font-size="25" font-weight="700" style="fill:#f39c12">[...]</text>
<text class="rt" x="3270.5" y="511.5">: (list) len=7</text>
<text class="o123" x="3265" y="571">123</text><text class="rt" x="3320.5" y="571" textLength="115">0: (int) 0</text>
<text class="o123" x="3265" y="631">123</text><text class="rt" x="3322" y="631" textLength="113">1: (int) 0</text>
<text class="o123" x="3265" y="691">123</text><text class="rt" x="3320.5" y="691" textLength="115">2: (int) 0</text>
<text class="o123" x="3265" y="751.5">123</text><text class="rt" x="3320.5" y="751.5" textLength="115">3: (int) 0</text>
<rect x="3729" y="516" width="8" height="137" rx="4" fill="#a0a0a0"/>
</g>
<g id="card-scaler">
<rect class="card" x="3125.5" y="822" width="639" height="422" rx="14"/>
<text class="rt" x="3143.5" y="860">MinMax归一化</text><text class="rs" x="3143" y="904">scaler</text>
<g class="ic" stroke-width="3"><path d="M3545,866 H3562 a11,11 0 0 1 6,20 M3565,889 H3547 a11,11 0 0 1 -6,-20"/></g>
<path class="icf" d="M3550,861 V873 L3541,867 Z M3560,883 V895 L3570,889 Z"/>
<use href="#cv" x="3607" y="878.5"/><use href="#xm" x="3701" y="877"/>
<path class="tb" d="M3143,928 H3746.5 V1226.5 H3143"/>
<path fill="#e8e8e8" d="M3225,948 H3240 L3246,954 V975 H3225 Z"/><path stroke="#8a8a8a" stroke-width="2" d="M3229,958 H3242 M3229,963 H3242 M3229,968 H3242"/>
<text class="rt" x="3270.5" y="961.5" textLength="456">: (File) 'model_3fd34b98-e9c6-...</text>
</g>
<g id="card-model">
<rect class="card" x="3125.5" y="1271" width="639" height="424" rx="14"/>
<text class="rt" x="3143" y="1309.5">逻辑回归训练 1</text><text class="rs" x="3143.5" y="1353">model</text>
<path class="ic" stroke-width="3" d="M3545,1331 L3537,1347 M3541,1317 L3561,1309 L3575,1321 L3561,1331 L3554,1341 L3541,1326 Z"/>
<use href="#cv" x="3607" y="1329"/><use href="#xm" x="3701" y="1327"/>
<path class="tb" d="M3143,1378 H3746.5 V1676.5 H3143"/>
<text x="3214" y="1411.5" font-size="25" font-weight="700" style="fill:#f39c12" textLength="42">"..."</text>
<text class="rt" x="3270.5" y="1411.5" textLength="458">: (str) 'temp_runs\nodes\dc387...</text>
</g>
</g>
</svg>
